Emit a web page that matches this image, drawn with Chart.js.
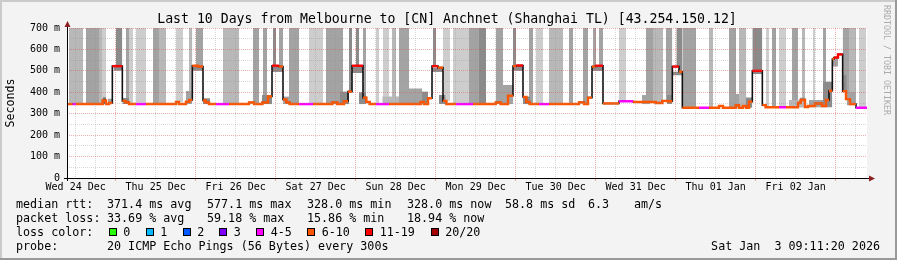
<!DOCTYPE html>
<html>
<head>
<meta charset="utf-8">
<script src="https://cdn.jsdelivr.net/npm/chart.js@4.4.1/dist/chart.umd.min.js"></script>
<style>
html, body { margin: 0; padding: 0; background: #fff; }
#graph { position: relative; width: 897px; height: 260px; background: #f3f3f3; overflow: hidden;
  font-family: 'DejaVu Sans Mono', monospace; color: #000; }
#graph canvas { position: absolute; left: 0; top: 0; }
.edge { position: absolute; }
.title { position: absolute; left: 0; top: 11px; width: 894px; text-align: center; font-size: 13.2px; line-height: 16px; white-space: pre; }
.vendor { position: absolute; left: 882px; top: 5px; writing-mode: vertical-rl; font-size: 8.3px; line-height: 10px; color: #ababab; white-space: pre; }
.t { position: absolute; font-size: 11.7px; line-height: 14px; white-space: pre; }
.sw { position: absolute; top: 228px; width: 6px; height: 6px; border: 1px solid #000; }
</style>
</head>
<body>
<div id="graph">
  <div class="edge" style="left:0;top:0;width:897px;height:2px;background:#cbcbcb"></div>
  <div class="edge" style="left:0;top:0;width:2px;height:260px;background:#cbcbcb"></div>
  <div class="edge" style="left:895px;top:0;width:2px;height:260px;background:#999"></div>
  <div class="edge" style="left:0;top:258px;width:897px;height:2px;background:#999"></div>
  <canvas id="chart" width="897" height="260"></canvas>
  <div class="title">Last 10 Days from Melbourne to [CN] Anchnet (Shanghai TL) [43.254.150.12]</div>
  <div class="vendor">RRDTOOL / TOBI OETIKER</div>

  <div class="t" style="left:16px;top:197px">median rtt:</div>
  <div class="t" style="left:107px;top:197px">371.4 ms avg</div>
  <div class="t" style="left:207px;top:197px">577.1 ms max</div>
  <div class="t" style="left:307px;top:197px">328.0 ms min</div>
  <div class="t" style="left:407px;top:197px">328.0 ms now</div>
  <div class="t" style="left:505px;top:197px">58.8 ms sd</div>
  <div class="t" style="left:588px;top:197px">6.3</div>
  <div class="t" style="left:634px;top:197px">am/s</div>

  <div class="t" style="left:16px;top:211px">packet loss:</div>
  <div class="t" style="left:107px;top:211px">33.69 % avg</div>
  <div class="t" style="left:207px;top:211px">59.18 % max</div>
  <div class="t" style="left:307px;top:211px">15.86 % min</div>
  <div class="t" style="left:407px;top:211px">18.94 % now</div>

  <div class="t" style="left:16px;top:225px">loss color:</div>
  <div id="lossRow"></div>

  <div class="t" style="left:16px;top:239px">probe:</div>
  <div class="t" style="left:107px;top:239px">20 ICMP Echo Pings (56 Bytes) every 300s</div>
  <div class="t" style="right:17px;top:239px">Sat Jan  3 09:11:20 2026</div>
</div>

<script>
// hours counted from Wed 24 Dec 00:00
var startHour = 9.4, endHour = 249.4;
var dayLabels = ['Wed 24 Dec', 'Thu 25 Dec', 'Fri 26 Dec', 'Sat 27 Dec', 'Sun 28 Dec',
  'Mon 29 Dec', 'Tue 30 Dec', 'Wed 31 Dec', 'Thu 01 Jan', 'Fri 02 Jan'];

var lossLabels = ['0', '1', '2', '3', '4-5', '6-10', '11-19', '20/20'];
var lossColors = ['#26ff00', '#00b8ff', '#0059ff', '#7e00ff', '#ff00ff', '#ff5500', '#ff0000', '#a10000'];

// median rtt steps: start hour, value (ms), loss class index
var medFrom = [9.4, 11.1, 12.1, 20.1, 21.1, 22.0, 23.0, 26.0, 27.0, 28.0, 30.1, 33.1, 42.1, 43.0, 45.1, 46.1,
  47.0, 48.7, 50.2, 51.0, 52.0, 54.1, 58.0, 64.0, 65.5, 68.0, 69.7, 70.9, 73.0, 74.2, 75.2, 76.2,
  79.0, 83.2, 89.0, 90.5, 92.5, 93.7, 94.9, 98.2, 99.2, 100.2, 102.1, 106.0, 115.5, 116.5, 117.7, 118.9,
  120.7, 122.2, 123.2, 126.1, 131.2, 138.0, 139.5, 141.7, 143.2, 144.2, 146.2, 147.2, 148.2, 151.0, 154.0, 163.0,
  164.5, 165.7, 166.9, 167.9, 170.2, 175.0, 179.2, 186.0, 188.0, 189.5, 191.0, 193.0, 194.0, 199.0, 202.0, 205.0,
  206.2, 210.0, 211.0, 212.2, 213.2, 214.0, 215.0, 218.0, 219.0, 223.0, 225.1, 228.7, 229.5, 230.8, 231.7, 233.8,
  235.9, 237.1, 238.0, 239.0, 239.5, 240.7, 242.1, 243.1, 244.3, 246.1];
var medRtt = [345, 345, 345, 362, 345, 350, 522, 360, 352, 345, 345, 345, 355, 345, 356, 364,
  524, 520, 362, 352, 345, 345, 345, 352, 345, 352, 380, 524, 520, 366, 352, 345,
  345, 345, 352, 345, 358, 403, 524, 375, 355, 345, 345, 345, 355, 345, 372, 522,
  515, 360, 345, 345, 345, 352, 345, 384, 522, 525, 378, 355, 345, 345, 345, 353,
  345, 375, 520, 524, 348, 358, 355, 350, 360, 358, 520, 496, 328, 328, 328, 336,
  328, 340, 328, 336, 328, 356, 500, 340, 330, 330, 330, 350, 364, 331, 336, 348,
  336, 364, 407, 555, 562, 577, 405, 368, 345, 328];
var medLoss = [5, 4, 5, 5, 5, 5, 6, 5, 5, 5, 4, 5, 5, 5, 5, 5,
  5, 5, 5, 5, 5, 4, 5, 5, 5, 5, 5, 6, 5, 5, 5, 5,
  4, 5, 5, 5, 5, 5, 6, 5, 5, 5, 4, 5, 5, 5, 5, 6,
  5, 5, 5, 4, 5, 5, 5, 5, 5, 6, 5, 5, 5, 4, 5, 5,
  5, 5, 5, 6, 5, 4, 5, 5, 5, 5, 6, 5, 5, 4, 5, 5,
  5, 5, 5, 5, 5, 5, 6, 5, 5, 4, 5, 5, 5, 5, 5, 5,
  5, 5, 5, 5, 6, 6, 5, 5, 5, 4];

// tall smoke: from hour, to hour, lower edge (ms), density 1..4 (reaches top of graph)
var bands = [
  [10.0, 14.2, 345, 2], [15.1, 19.0, 345, 3], [19.0, 19.9, 345, 2], [19.9, 21.1, 362, 1],
  [24.1, 26.0, 522, 4], [27.1, 28.0, 352, 3], [28.0, 29.2, 345, 1], [30.1, 33.1, 345, 1],
  [35.2, 37.0, 345, 3], [37.0, 39.1, 345, 2], [42.1, 44.2, 355, 1], [46.0, 47.0, 364, 2],
  [48.1, 50.2, 524, 3], [56.2, 61.0, 345, 2], [65.2, 67.0, 345, 3], [68.2, 69.4, 352, 3],
  [71.2, 72.1, 524, 4], [73.0, 74.2, 520, 3], [76.0, 79.0, 345, 3], [82.0, 86.2, 345, 1],
  [87.1, 92.2, 345, 3], [94.0, 94.9, 403, 4], [96.1, 97.0, 524, 4], [98.2, 99.1, 375, 3],
  [102.1, 103.0, 345, 1], [104.2, 106.0, 345, 1], [106.9, 108.1, 345, 2], [109.0, 112.0, 345, 3],
  [119.2, 120.1, 522, 4], [122.2, 124.3, 360, 1], [125.2, 130.0, 345, 1], [130.0, 133.0, 345, 3],
  [133.0, 135.1, 345, 4], [138.1, 140.2, 345, 3], [143.2, 144.1, 522, 4], [148.0, 149.2, 345, 3],
  [150.1, 152.2, 345, 1], [154.0, 158.2, 345, 2], [160.0, 161.2, 345, 3], [164.2, 165.7, 345, 3],
  [167.2, 168.1, 524, 3], [169.0, 170.2, 524, 3], [175.0, 177.1, 358, 1], [183.1, 185.2, 355, 3],
  [185.2, 188.2, 350, 2], [189.1, 191.0, 358, 3], [192.2, 193.0, 520, 4], [193.0, 194.0, 496, 4],
  [194.0, 198.1, 328, 3], [202.0, 203.2, 328, 2], [208.0, 210.1, 328, 3], [211.0, 213.2, 328, 2],
  [215.0, 218.0, 500, 4], [219.1, 220.0, 330, 1], [220.9, 222.1, 330, 3], [223.0, 225.1, 330, 1],
  [226.9, 228.7, 330, 3], [229.9, 230.8, 364, 2], [233.2, 233.8, 336, 1], [236.2, 237.1, 336, 3],
  [242.1, 243.1, 405, 3], [243.1, 244.0, 368, 3], [244.0, 246.1, 345, 2], [247.0, 249.1, 328, 1]
];

// short smoke around the median: from hour, to hour, low (ms), high (ms), density 1..5
var puffs = [
  [20.1, 21.1, 345, 376, 5], [21.7, 23.0, 345, 370, 3], [26.0, 28.0, 345, 373, 4], [45.1, 47.0, 345, 406, 3],
  [50.2, 52.3, 345, 372, 4], [67.9, 70.9, 345, 387, 4], [74.2, 77.2, 345, 380, 3], [91.3, 94.0, 345, 403, 4],
  [97.0, 99.1, 345, 400, 4], [104.0, 109.0, 345, 380, 2], [112.0, 116.0, 345, 418, 3], [115.3, 117.7, 345, 403, 4],
  [121.0, 123.0, 345, 387, 4], [140.2, 143.2, 345, 434, 3], [146.2, 148.3, 345, 380, 4], [181.9, 184.3, 345, 387, 3],
  [189.4, 191.0, 345, 387, 4], [208.9, 211.0, 328, 392, 3], [213.0, 215.0, 328, 376, 4], [226.0, 231.0, 330, 364, 2],
  [229.2, 231.0, 330, 375, 4], [232.0, 236.2, 330, 364, 3], [236.2, 239.0, 330, 449, 4], [239.0, 240.7, 520, 560, 3],
  [242.1, 243.3, 405, 480, 4], [243.3, 246.0, 340, 400, 3],
  [23.4, 26.0, 500, 522, 4], [47.0, 50.2, 500, 520, 4], [70.9, 74.2, 495, 520, 4], [94.9, 98.2, 490, 522, 4],
  [118.9, 122.2, 495, 515, 4], [143.2, 146.2, 500, 522, 4], [166.9, 170.2, 500, 520, 4], [191.0, 194.0, 480, 496, 4],
  [215.0, 218.0, 485, 500, 4]
];

var smokeGrey = [null, '#cdcdcd', '#b8b8b8', '#a3a3a3', '#8b8b8b', '#6c6c6c'];
var gridGrey = 'rgba(143,143,143,0.35)';
var gridRed = 'rgba(222,80,80,0.45)';
var mono = 'DejaVu Sans Mono';

// loss colour legend
var swatchX = [108.5, 145.5, 182.5, 219, 256, 307, 365, 430.5];
var row = document.getElementById('lossRow');
lossLabels.forEach(function(lbl, i) {
  var sw = document.createElement('div');
  sw.className = 'sw';
  sw.style.left = swatchX[i] + 'px';
  sw.style.background = lossColors[i];
  row.appendChild(sw);
  var tx = document.createElement('div');
  tx.className = 't';
  tx.style.left = (swatchX[i] + 14.7) + 'px';
  tx.style.top = '225px';
  tx.textContent = lbl;
  row.appendChild(tx);
});

// step line: every median value holds until the next one starts
var medPts = [];
medFrom.forEach(function(h, i) {
  var to = i + 1 < medFrom.length ? medFrom[i + 1] : endHour;
  medPts.push({x: h, y: medRtt[i]}, {x: to, y: medRtt[i]});
});

function segColor(c) {
  var k = c.p0DataIndex, i = k >> 1;
  if (k % 2 === 0) return lossColors[medLoss[i]];
  var j = i + 1;
  if (medLoss[i] === medLoss[j] && Math.abs(medRtt[i] - medRtt[j]) < 40) return lossColors[medLoss[i]];
  return 'rgba(0,0,0,0)';
}

var datasets = [];
datasets.push({
  data: medPts, borderWidth: 2.4, borderColor: lossColors[5], pointRadius: 0, fill: false, order: 0,
  borderJoinStyle: 'miter', segment: {borderColor: segColor}
});
datasets.push({
  data: medPts, borderWidth: 1.6, borderColor: '#111', pointRadius: 0, fill: false, order: 1
});
puffs.forEach(function(p) {
  datasets.push({
    data: [{x: p[0], y: p[3]}, {x: p[1], y: p[3]}], fill: {value: p[2]},
    backgroundColor: smokeGrey[p[4]], borderColor: 'rgba(0,0,0,0)', borderWidth: 0, pointRadius: 0, order: 2
  });
});
bands.forEach(function(b) {
  datasets.push({
    data: [{x: b[0], y: 700}, {x: b[1], y: 700}], fill: {value: b[2]},
    backgroundColor: smokeGrey[b[3]], borderColor: 'rgba(0,0,0,0)', borderWidth: 0, pointRadius: 0, order: 3
  });
});

var plotBg = {
  id: 'plotBg',
  beforeDraw: function(chart) {
    var a = chart.chartArea, ctx = chart.ctx;
    ctx.save();
    ctx.fillStyle = '#fff';
    ctx.fillRect(a.left, a.top, a.right - a.left, a.bottom - a.top);
    ctx.restore();
  }
};

var axes = {
  id: 'axes',
  afterDraw: function(chart) {
    var a = chart.chartArea, ctx = chart.ctx;
    ctx.save();
    ctx.strokeStyle = '#000';
    ctx.lineWidth = 1;
    ctx.beginPath();
    ctx.moveTo(a.left - 3, a.bottom + 0.5);
    ctx.lineTo(a.right + 3, a.bottom + 0.5);
    ctx.moveTo(a.left + 0.5, a.bottom + 3);
    ctx.lineTo(a.left + 0.5, a.top - 2);
    ctx.stroke();
    ctx.fillStyle = '#8e1f1f';
    ctx.beginPath();
    ctx.moveTo(a.left + 0.5, a.top - 7);
    ctx.lineTo(a.left - 2.5, a.top - 1);
    ctx.lineTo(a.left + 3.5, a.top - 1);
    ctx.fill();
    ctx.beginPath();
    ctx.moveTo(a.right + 8, a.bottom + 0.5);
    ctx.lineTo(a.right + 2, a.bottom - 2.5);
    ctx.lineTo(a.right + 2, a.bottom + 3.5);
    ctx.fill();
    ctx.restore();
  }
};

new Chart(document.getElementById('chart').getContext('2d'), {
  type: 'line',
  data: {datasets: datasets},
  options: {
    responsive: false,
    animation: false,
    events: [],
    layout: {padding: {left: 0, top: 28, right: 30, bottom: 0}},
    plugins: {legend: {display: false}, tooltip: {enabled: false}, title: {display: false}},
    scales: {
      x: {
        type: 'linear', min: startHour, max: endHour,
        afterBuildTicks: function(scale) {
          var t = [];
          for (var h = 12; h < endHour; h += 6) t.push({value: h});
          scale.ticks = t;
        },
        afterFit: function(scale) { scale.height = 82; },
        ticks: {
          autoSkip: false, maxRotation: 0, padding: 0, color: '#000', font: {family: mono, size: 10},
          callback: function(v) { return v % 24 === 12 ? dayLabels[(v - 12) / 24] : ''; }
        },
        grid: {
          z: 1, drawTicks: true, tickLength: 3,
          color: function(c) { return c.tick && c.tick.value % 24 === 0 ? gridRed : gridGrey; },
          tickColor: function(c) { return c.tick && c.tick.value % 24 === 0 ? gridRed : 'rgba(0,0,0,0)'; }
        },
        border: {display: false, dash: [1, 1]}
      },
      y: {
        min: 0, max: 700,
        afterFit: function(scale) { scale.width = 67; },
        ticks: {
          stepSize: 50, autoSkip: false, padding: 7, color: '#000', font: {family: mono, size: 10},
          callback: function(v) { return v % 100 ? '' : (v ? v + ' m' : '0'); }
        },
        grid: {
          z: 1, drawTicks: false,
          color: function(c) { return c.tick && c.tick.value % 100 === 0 ? gridRed : gridGrey; }
        },
        border: {display: false, dash: [1, 1]},
        title: {display: true, text: 'Seconds', color: '#000', font: {family: mono, size: 11.6}, padding: {top: 4, bottom: 4}}
      }
    }
  },
  plugins: [plotBg, axes]
});
</script>
</body>
</html>
